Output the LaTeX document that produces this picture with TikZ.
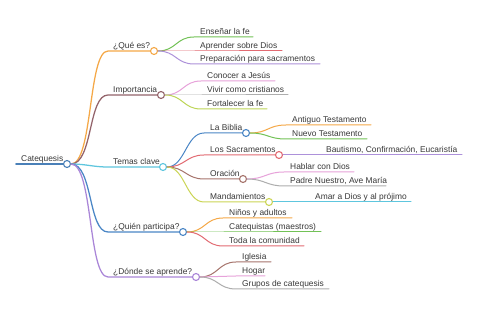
\documentclass[tikz,border=0pt]{standalone}
\usepackage{fontspec}
\setmainfont{Liberation Sans}
\definecolor{cRoot}{HTML}{4A80B8}
\definecolor{cOrange}{HTML}{F5A847}
\definecolor{cBrown}{HTML}{93636A}
\definecolor{cCyan}{HTML}{5EC6DE}
\definecolor{cBlue}{HTML}{4A86C6}
\definecolor{cPurple}{HTML}{AA86D8}
\definecolor{cGreen}{HTML}{72C256}
\definecolor{cRed}{HTML}{E26B72}
\definecolor{cLav}{HTML}{AD91DA}
\definecolor{cPink}{HTML}{E7A2DA}
\definecolor{cGray}{HTML}{ADADAD}
\definecolor{cLime}{HTML}{BDD556}
\definecolor{cBrownB}{HTML}{A6746C}
\definecolor{cYG}{HTML}{CBD556}
\definecolor{cText}{HTML}{383838}
\tikzset{
  lbl/.style={anchor=base west,inner sep=0pt,text=cText,font=\fontsize{8.4}{10}\selectfont},
  dot/.style={circle,draw=#1,fill=white,line width=1.1pt,minimum size=7pt,inner sep=0pt},
  lroot/.style={draw=cRoot,line width=1.8pt,line cap=round},
  lone/.style={draw=#1,line width=1.25pt,line cap=round},
  ltwo/.style={draw=#1,line width=1pt,line cap=round},
}
\begin{document}
\begin{tikzpicture}[x=1pt,y=-1pt]
\fill[white] (0,0) rectangle (480,320);
\useasboundingbox (0,0) rectangle (480,320);
% root
\coordinate (r0) at (16,164);
\node[dot=cRoot] (root) at (67,164) {};
\node[lbl] (troot) at (21,161.5) {Catequesis};
\draw[lroot] (r0) -- (root.west);
% level 1 circles
\node[dot=cOrange] (q) at (154,51) {};
\node[dot=cBrown] (imp) at (161,95) {};
\node[dot=cCyan] (tem) at (163,167) {};
\node[dot=cBlue] (qui) at (183,232) {};
\node[dot=cPurple] (don) at (196,277) {};
\coordinate (sq) at (108,51);
\coordinate (simp) at (108,95);
\coordinate (stem) at (108,167);
\coordinate (squi) at (108,232);
\coordinate (sdon) at (108,277);
\node[lbl] (tq) at (113,48.5) {¿Qué es?};
\node[lbl] (timp) at (113,92.5) {Importancia};
\node[lbl] (ttem) at (113,164.5) {Temas clave};
\node[lbl] (tqui) at (113,229.5) {¿Quién participa?};
\node[lbl] (tdon) at (113,274.5) {¿Dónde se aprende?};
\draw[lone=cOrange] (root.east) .. controls +(22,0) and +(-20,0) .. (sq) -- (q.west);
\draw[lone=cBrown] (root.east) .. controls +(22,0) and +(-20,0) .. (simp) -- (imp.west);
\draw[lone=cCyan] (root.east) .. controls +(15,0) and +(-15,0) .. (stem) -- (tem.west);
\draw[lone=cBlue] (root.east) .. controls +(22,0) and +(-20,0) .. (squi) -- (qui.west);
\draw[lone=cPurple] (root.east) .. controls +(22,0) and +(-20,0) .. (sdon) -- (don.west);
% ¿Qué es?
\coordinate (a1s) at (194,37); \coordinate (a1e) at (253,37);
\coordinate (a2s) at (194,51); \coordinate (a2e) at (282,51);
\coordinate (a3s) at (194,64); \coordinate (a3e) at (320,64);
\node[lbl] (ta1) at (200,34.5) {Enseñar la fe};
\node[lbl] (ta2) at (200,48.5) {Aprender sobre Dios};
\node[lbl] (ta3) at (200,61.5) {Preparación para sacramentos};
\draw[ltwo=cGreen] (q.east) .. controls +(18,0) and +(-18,0) .. (a1s) -- (a1e);
\draw[ltwo=cRed] (q.east) .. controls +(18,0) and +(-18,0) .. (a2s) -- (a2e);
\draw[ltwo=cLav] (q.east) .. controls +(18,0) and +(-18,0) .. (a3s) -- (a3e);
% Importancia
\coordinate (b1s) at (201,81); \coordinate (b1e) at (275,81);
\coordinate (b2s) at (201,95); \coordinate (b2e) at (288,95);
\coordinate (b3s) at (201,109); \coordinate (b3e) at (267,109);
\node[lbl] (tb1) at (207,78.5) {Conocer a Jesús};
\node[lbl] (tb2) at (207,92.5) {Vivir como cristianos};
\node[lbl] (tb3) at (207,106.5) {Fortalecer la fe};
\draw[ltwo=cPink] (imp.east) .. controls +(18,0) and +(-18,0) .. (b1s) -- (b1e);
\draw[ltwo=cGray] (imp.east) .. controls +(18,0) and +(-18,0) .. (b2s) -- (b2e);
\draw[ltwo=cLime] (imp.east) .. controls +(18,0) and +(-18,0) .. (b3s) -- (b3e);
% Temas clave
\node[dot=cBlue] (bib) at (246,133) {};
\node[dot=cRed] (sac) at (279,155) {};
\node[dot=cBrownB] (ora) at (243,179) {};
\node[dot=cYG] (man) at (269,202) {};
\coordinate (c1s) at (204,133);
\coordinate (c2s) at (204,155);
\coordinate (c3s) at (204,179);
\coordinate (c4s) at (204,202);
\node[lbl] (tc1) at (210,130.5) {La Biblia};
\node[lbl] (tc2) at (210,152.5) {Los Sacramentos};
\node[lbl] (tc3) at (210,176.5) {Oración};
\node[lbl] (tc4) at (210,199.5) {Mandamientos};
\draw[ltwo=cBlue] (tem.east) .. controls +(18,0) and +(-18,0) .. (c1s) -- (bib.west);
\draw[ltwo=cRed] (tem.east) .. controls +(18,0) and +(-18,0) .. (c2s) -- (sac.west);
\draw[ltwo=cBrownB] (tem.east) .. controls +(18,0) and +(-18,0) .. (c3s) -- (ora.west);
\draw[ltwo=cYG] (tem.east) .. controls +(18,0) and +(-18,0) .. (c4s) -- (man.west);
% La Biblia
\coordinate (d1s) at (286,125); \coordinate (d1e) at (371,125);
\coordinate (d2s) at (286,139); \coordinate (d2e) at (367,139);
\node[lbl] (td1) at (292,122.5) {Antiguo Testamento};
\node[lbl] (td2) at (292,136.5) {Nuevo Testamento};
\draw[ltwo=cOrange] (bib.east) .. controls +(18,0) and +(-18,0) .. (d1s) -- (d1e);
\draw[ltwo=cGreen] (bib.east) .. controls +(18,0) and +(-18,0) .. (d2s) -- (d2e);
% Los Sacramentos
\coordinate (e1e) at (462,155);
\node[lbl] (te1) at (326,152.5) {Bautismo, Confirmación, Eucaristía};
\draw[ltwo=cLav] (sac.east) -- (e1e);
% Oración
\coordinate (f1s) at (284,172); \coordinate (f1e) at (354,172);
\coordinate (f2s) at (284,186); \coordinate (f2e) at (386,186);
\node[lbl] (tf1) at (290,169.5) {Hablar con Dios};
\node[lbl] (tf2) at (290,183.5) {Padre Nuestro, Ave María};
\draw[ltwo=cPink] (ora.east) .. controls +(18,0) and +(-18,0) .. (f1s) -- (f1e);
\draw[ltwo=cGray] (ora.east) .. controls +(18,0) and +(-18,0) .. (f2s) -- (f2e);
% Mandamientos
\coordinate (g1e) at (411,202);
\node[lbl] (tg1) at (315,199.5) {Amar a Dios y al prójimo};
\draw[ltwo=cCyan] (man.east) -- (g1e);
% ¿Quién participa?
\coordinate (h1s) at (223,218); \coordinate (h1e) at (292,218);
\coordinate (h2s) at (223,232); \coordinate (h2e) at (321,232);
\coordinate (h3s) at (223,246); \coordinate (h3e) at (304,246);
\node[lbl] (th1) at (229,215.5) {Niños y adultos};
\node[lbl] (th2) at (229,229.5) {Catequistas (maestros)};
\node[lbl] (th3) at (229,243.5) {Toda la comunidad};
\draw[ltwo=cOrange] (qui.east) .. controls +(18,0) and +(-18,0) .. (h1s) -- (h1e);
\draw[ltwo=cGreen] (qui.east) .. controls +(18,0) and +(-18,0) .. (h2s) -- (h2e);
\draw[ltwo=cRed] (qui.east) .. controls +(18,0) and +(-18,0) .. (h3s) -- (h3e);
% ¿Dónde se aprende?
\coordinate (k1s) at (236,262); \coordinate (k1e) at (271,262);
\coordinate (k2s) at (236,276); \coordinate (k2e) at (265,276);
\coordinate (k3s) at (236,289); \coordinate (k3e) at (329,289);
\node[lbl] (tk1) at (242,259.5) {Iglesia};
\node[lbl] (tk2) at (242,273.5) {Hogar};
\node[lbl] (tk3) at (242,286.5) {Grupos de catequesis};
\draw[ltwo=cBrownB] (don.east) .. controls +(18,0) and +(-18,0) .. (k1s) -- (k1e);
\draw[ltwo=cPink] (don.east) .. controls +(18,0) and +(-18,0) .. (k2s) -- (k2e);
\draw[ltwo=cGray] (don.east) .. controls +(18,0) and +(-18,0) .. (k3s) -- (k3e);
\end{tikzpicture}
\end{document}
